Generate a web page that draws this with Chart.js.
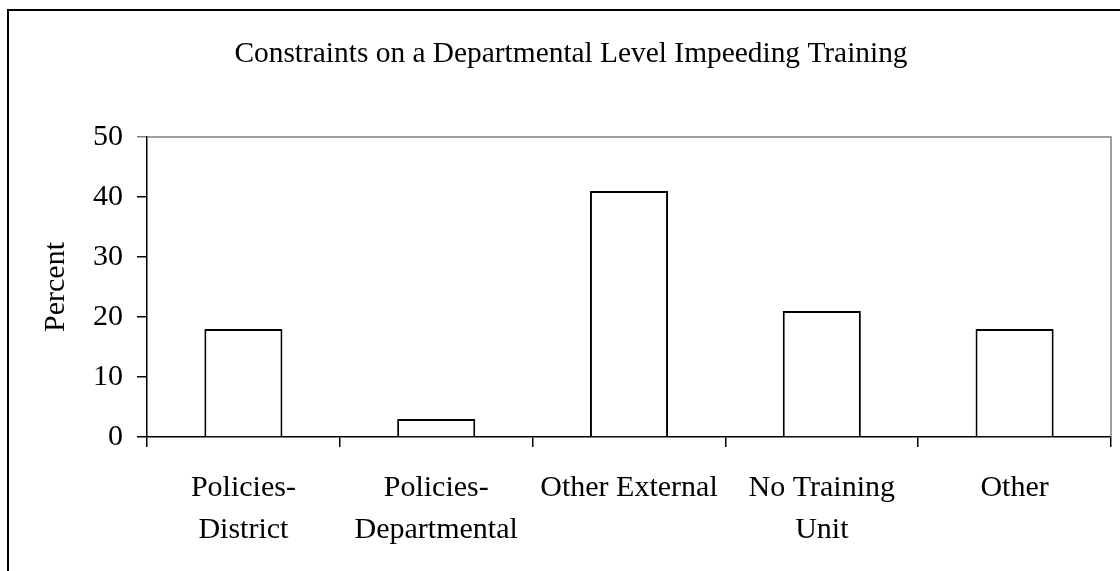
<!DOCTYPE html>
<html><head><meta charset="utf-8">
<script src="https://cdn.jsdelivr.net/npm/chart.js@4/dist/chart.umd.min.js"></script>
<style>html,body{margin:0;padding:0;background:#fff}#wrap{width:1120px;height:571px;position:relative}</style>
</head><body><div id="wrap"><canvas id="c" width="1120" height="571"></canvas></div>
<script>
const chartTitle = 'Constraints on a Departmental Level Impeeding Training';
const categories = [['Policies-','District'],['Policies-','Departmental'],['Other External'],['No Training','Unit'],['Other']];
const values = [18, 3, 41, 21, 18];
const yMin = 0, yMax = 50, yStep = 10;
const yAxisTitle = 'Percent';

const FONT = '"Liberation Serif", "Times New Roman", serif';

const framePlugin = {
  id: 'frame',
  beforeDraw(chart) {
    const ctx = chart.ctx;
    ctx.save();
    ctx.fillStyle = '#fff';
    ctx.fillRect(0, 0, chart.width, chart.height);
    ctx.restore();
  },
  beforeDatasetsDraw(chart) {
    const {ctx, chartArea: a} = chart;
    ctx.save();
    ctx.strokeStyle = '#808080';
    ctx.lineWidth = 1.5;
    ctx.beginPath();
    ctx.moveTo(a.left, a.top);
    ctx.lineTo(a.right, a.top);
    ctx.lineTo(a.right, a.bottom);
    ctx.stroke();
    ctx.restore();
  },
  afterDraw(chart) {
    const ctx = chart.ctx;
    ctx.save();
    ctx.fillStyle = '#000';
    ctx.fillRect(7, 9, 2, chart.height);
    ctx.fillRect(7, 9, chart.width, 2);
    ctx.font = '29.4px ' + FONT;
    ctx.textAlign = 'center';
    ctx.textBaseline = 'alphabetic';
    ctx.fillText(chartTitle, 571, 62);
    ctx.restore();
  }
};

new Chart(document.getElementById('c'), {
  type: 'bar',
  data: {
    labels: categories,
    datasets: [{
      data: values,
      backgroundColor: '#ffffff',
      borderColor: '#000000',
      borderWidth: 2,
      categoryPercentage: 1,
      barPercentage: 0.405
    }]
  },
  options: {
    responsive: false,
    animation: false,
    devicePixelRatio: 1,
    layout: {padding: {top: 137, right: 9, left: 0, bottom: 0}},
    plugins: {legend: {display: false}, title: {display: false}, tooltip: {enabled: false}},
    scales: {
      x: {
        afterFit(s) { s.height = 134; },
        grid: {drawOnChartArea: false, color: '#000', tickLength: 10, offset: true, lineWidth: 1.5},
        border: {color: '#000', width: 1.5},
        ticks: {color: '#000', font: {family: FONT, size: 30, lineHeight: 1.37}, padding: 21, maxRotation: 0, autoSkip: false}
      },
      y: {
        min: yMin, max: yMax,
        afterFit(s) { s.width = 147; },
        grid: {drawOnChartArea: false, tickLength: 10, lineWidth: 1.5,
               color: c => (c.tick && c.tick.value === yMax) ? '#808080' : '#000'},
        border: {color: '#000', width: 1.5},
        ticks: {stepSize: yStep, color: '#000', font: {family: FONT, size: 30}, padding: 14},
        title: {display: true, text: yAxisTitle, color: '#000', font: {family: FONT, size: 30}, padding: {top: 38}}
      }
    }
  },
  plugins: [framePlugin]
});
</script>
</body></html>
